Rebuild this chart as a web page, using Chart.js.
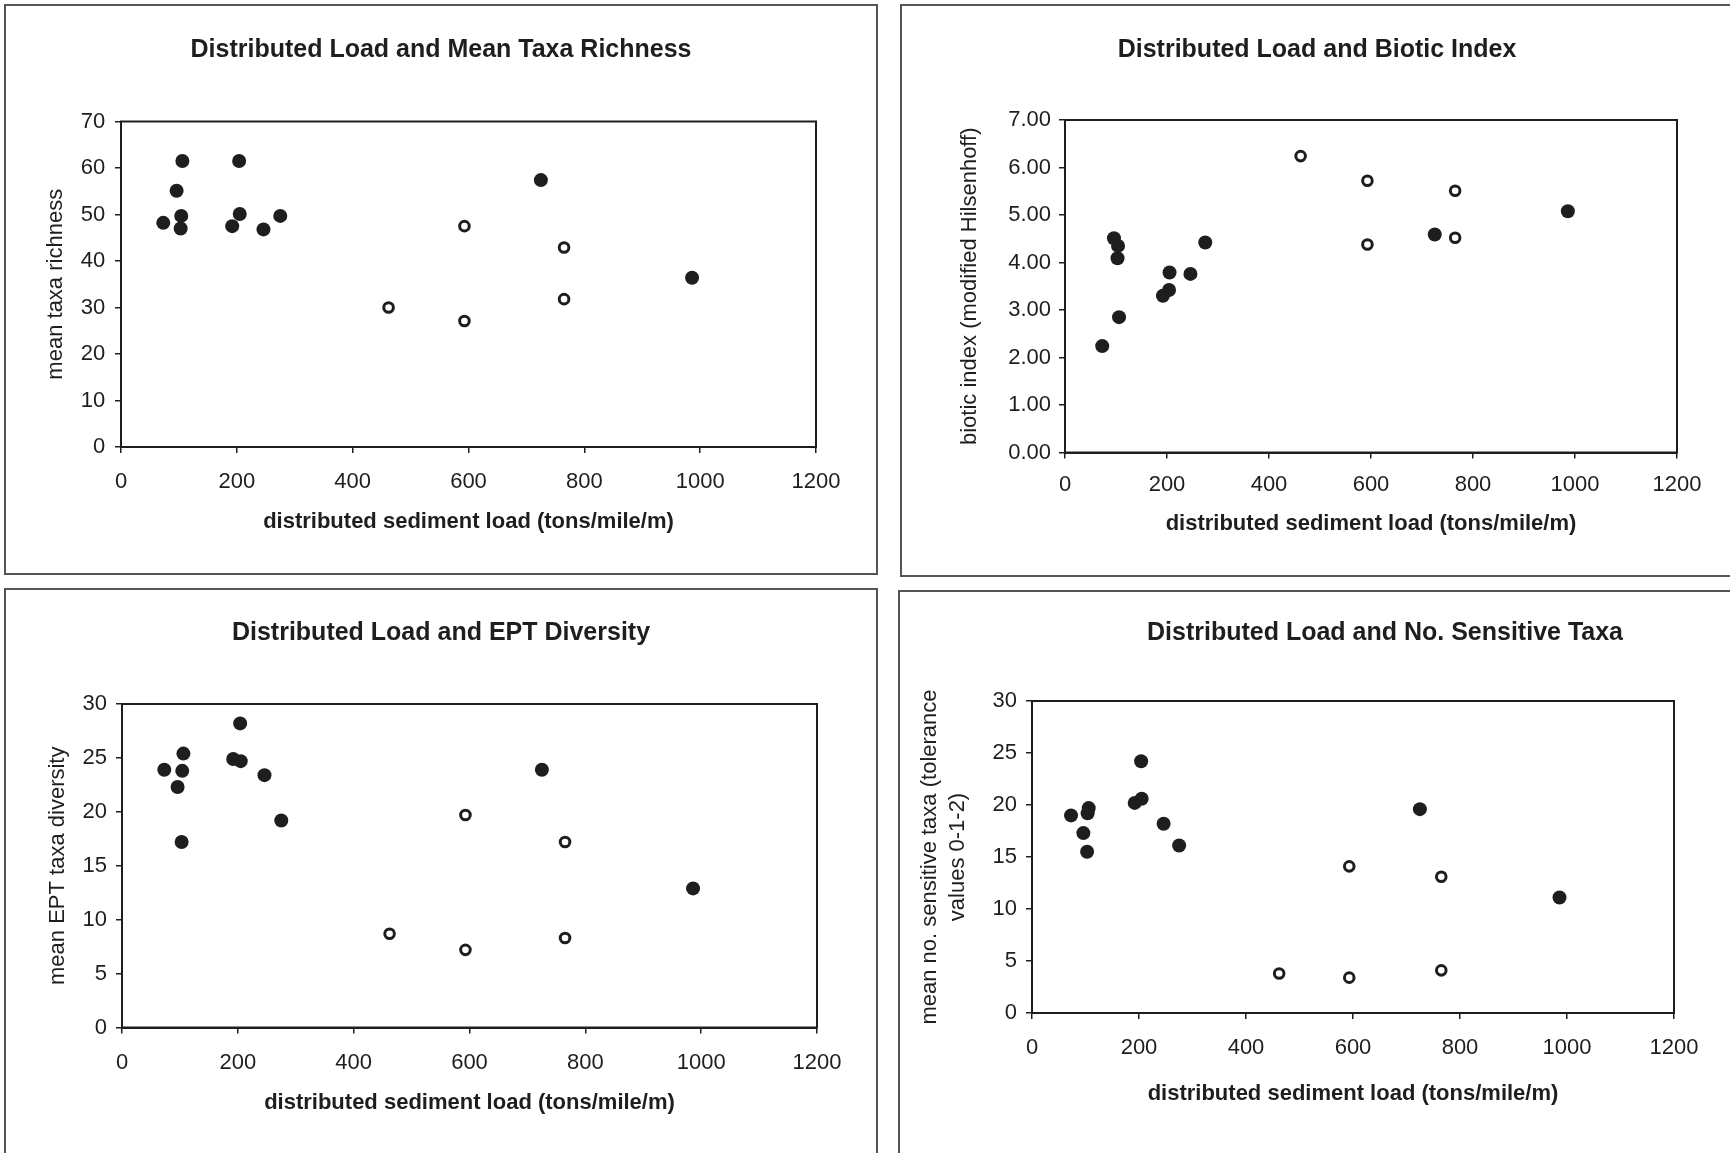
<!DOCTYPE html>
<html>
<head>
<meta charset="utf-8">
<title>Distributed load charts</title>
<script src="https://cdn.jsdelivr.net/npm/chart.js@4.4.0/dist/chart.umd.min.js"></script>
<style>
  html, body { margin: 0; padding: 0; background: #fff; }
  body { width: 1730px; height: 1153px; position: relative; overflow: hidden; }
  .frame { position: absolute; border: 2px solid #555; box-sizing: border-box; }
  canvas { position: absolute; }
</style>
</head>
<body>
<div class="frame" style="left:4px;top:4px;width:874px;height:571px"></div>
<div class="frame" style="left:900px;top:4px;width:900px;height:573px"></div>
<div class="frame" style="left:4px;top:588px;width:874px;height:700px"></div>
<div class="frame" style="left:898px;top:590px;width:900px;height:700px"></div>

<canvas id="c1"></canvas>
<canvas id="c2"></canvas>
<canvas id="c3"></canvas>
<canvas id="c4"></canvas>

<script>
// x values (distributed sediment load) shared by all four panels
const loadFilled = [73, 96, 103, 104, 106, 192, 204, 205, 246, 275, 725, 986];
const loadOpen = [462, 593, 593, 765, 765];

const richnessFilled = [48.2, 55.1, 47.0, 49.7, 61.5, 47.5, 61.5, 50.1, 46.8, 49.7, 57.4, 36.4];
const richnessOpen = [30.0, 47.5, 27.1, 42.9, 31.8];

const bioticFilled = [2.24, 4.51, 4.09, 4.35, 2.85, 3.30, 3.42, 3.79, 3.76, 4.42, 4.59, 5.08];
const bioticOpen = [6.24, 5.72, 4.38, 5.51, 4.52];

const eptFilled = [23.9, 22.3, 17.2, 23.8, 25.4, 24.9, 28.2, 24.7, 23.4, 19.2, 23.9, 12.9];
const eptOpen = [8.7, 19.7, 7.2, 17.2, 8.3];

const sensitiveFilled = [19.0, 17.3, 15.5, 19.2, 19.7, 20.2, 24.2, 20.6, 18.2, 16.1, 19.6, 11.1];
const sensitiveOpen = [3.8, 14.1, 3.4, 13.1, 4.1];

const FONT = "'Liberation Sans', Arial, Helvetica, sans-serif";
const INK = '#1e1e1e';
const TITLE_PX = 25;
const TICK_PX = 22;
const AXIS_PX = 22;

// box around the plot area
const plotFrame = {
    id: 'plotFrame',
    beforeDatasetsDraw(chart) {
        const { ctx, chartArea: a } = chart;
        ctx.save();
        ctx.strokeStyle = INK;
        ctx.lineWidth = 2;
        ctx.strokeRect(a.left, a.top, a.right - a.left, a.bottom - a.top);
        ctx.restore();
    }
};

const panels = [
    {
        id: 'c1', title: 'Distributed Load and Mean Taxa Richness', yTitle: 'mean taxa richness',
        filled: richnessFilled, open: richnessOpen, yMax: 70, yStep: 10, decimals: 0,
        box: { x: 6, y: 6, w: 870, h: 567 }, plot: { l: 121, t: 121.5, r: 816, b: 447 },
        titleY: 50.5, xTitleY: 522, yTitleX: 56, xTickPad: 16, yTickPad: 9.7
    },
    {
        id: 'c2', title: 'Distributed Load and Biotic Index', yTitle: 'biotic index (modified Hilsenhoff)',
        filled: bioticFilled, open: bioticOpen, yMax: 7, yStep: 1, decimals: 2,
        box: { x: 902, y: 6, w: 830, h: 569 }, plot: { l: 1065, t: 120, r: 1677, b: 452.5 },
        titleY: 50.5, xTitleY: 524, yTitleX: 970, xTickPad: 13.3, yTickPad: 8
    },
    {
        id: 'c3', title: 'Distributed Load and EPT Diversity', yTitle: 'mean EPT taxa diversity',
        filled: eptFilled, open: eptOpen, yMax: 30, yStep: 5, decimals: 0,
        box: { x: 6, y: 590, w: 870, h: 563 }, plot: { l: 122, t: 704, r: 817, b: 1027.5 },
        titleY: 633, xTitleY: 1103, yTitleX: 58, xTickPad: 16.7, yTickPad: 9
    },
    {
        id: 'c4', title: 'Distributed Load and No. Sensitive Taxa',
        yTitle: ['mean no. sensitive taxa (tolerance', 'values 0-1-2)'],
        filled: sensitiveFilled, open: sensitiveOpen, yMax: 30, yStep: 5, decimals: 0,
        box: { x: 900, y: 592, w: 970, h: 561 }, plot: { l: 1032, t: 701, r: 1674, b: 1013 },
        titleY: 633, xTitleY: 1094, yTitleX: 930, yLine: 28, xTickPad: 15.8, yTickPad: 9
    }
];

function buildChart(p) {
    const cv = document.getElementById(p.id);
    cv.width = p.box.w;
    cv.height = p.box.h;
    cv.style.left = p.box.x + 'px';
    cv.style.top = p.box.y + 'px';

    const titleLh = TITLE_PX * 1.2;
    const titleTop = p.titleY - p.box.y - titleLh / 2;
    const titleBottom = (p.plot.t - p.box.y) - titleTop - titleLh;
    const axisLh = AXIS_PX * 1.2;
    const yLh = p.yLine || AXIS_PX * 1.2;
    const yScaleW = p.plot.l - p.box.x;
    const xScaleH = (p.box.y + p.box.h) - p.plot.b;
    const rightW = (p.box.x + p.box.w) - p.plot.r;

    return new Chart(cv, {
        type: 'scatter',
        data: {
            datasets: [
                {
                    data: loadFilled.map((x, i) => ({ x: x, y: p.filled[i] })),
                    pointRadius: 7,
                    pointHoverRadius: 7,
                    backgroundColor: INK,
                    borderWidth: 0
                },
                {
                    data: loadOpen.map((x, i) => ({ x: x, y: p.open[i] })),
                    pointRadius: 4.8,
                    pointHoverRadius: 4.8,
                    backgroundColor: '#fff',
                    borderColor: INK,
                    borderWidth: 3
                }
            ]
        },
        options: {
            responsive: false,
            animation: false,
            events: [],
            layout: { padding: 0 },
            plugins: {
                legend: { display: false },
                tooltip: { enabled: false },
                title: {
                    display: true,
                    text: p.title,
                    color: INK,
                    font: { family: FONT, size: TITLE_PX, weight: 'bold', lineHeight: 1.2 },
                    padding: { top: titleTop, bottom: titleBottom }
                }
            },
            scales: {
                x: {
                    type: 'linear',
                    position: 'bottom',
                    min: 0,
                    max: 1200,
                    ticks: {
                        stepSize: 200,
                        padding: p.xTickPad,
                        color: INK,
                        maxRotation: 0,
                        font: { family: FONT, size: TICK_PX },
                        callback: (v) => String(v)
                    },
                    grid: { drawOnChartArea: false, drawTicks: true, tickLength: 6, color: INK, lineWidth: 1.5 },
                    border: { display: true, color: INK, width: 2 },
                    title: {
                        display: true,
                        text: 'distributed sediment load (tons/mile/m)',
                        color: INK,
                        font: { family: FONT, size: AXIS_PX, weight: 'bold', lineHeight: 1.2 },
                        padding: { top: 0, bottom: (p.box.y + p.box.h) - p.xTitleY - axisLh / 2 }
                    },
                    afterFit: (s) => { s.height = xScaleH; }
                },
                y: {
                    type: 'linear',
                    position: 'left',
                    min: 0,
                    max: p.yMax,
                    ticks: {
                        stepSize: p.yStep,
                        padding: p.yTickPad,
                        color: INK,
                        font: { family: FONT, size: TICK_PX },
                        callback: (v) => Number(v).toFixed(p.decimals)
                    },
                    grid: { drawOnChartArea: false, drawTicks: true, tickLength: 6, color: INK, lineWidth: 1.5 },
                    border: { display: true, color: INK, width: 2 },
                    title: {
                        display: true,
                        text: p.yTitle,
                        color: INK,
                        font: { family: FONT, size: AXIS_PX, lineHeight: yLh / AXIS_PX },
                        padding: { top: p.yTitleX - p.box.x - yLh / 2, bottom: 0 }
                    },
                    afterFit: (s) => { s.width = yScaleW; }
                },
                // empty right-hand axis: keeps the title centred on the panel, not on the plot
                spacer: {
                    type: 'linear',
                    position: 'right',
                    display: true,
                    ticks: { display: false },
                    grid: { display: false },
                    border: { display: false },
                    afterFit: (s) => { s.width = rightW; }
                }
            }
        },
        plugins: [plotFrame]
    });
}

panels.forEach(buildChart);
</script>
</body>
</html>
